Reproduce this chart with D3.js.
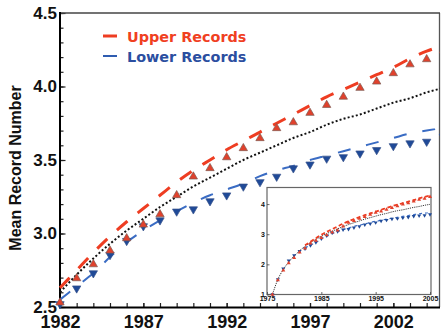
<!DOCTYPE html>
<html>
<head>
<meta charset="utf-8">
<script src="https://cdn.jsdelivr.net/npm/d3@7"></script>
<style>
  body { margin: 0; background: #fff; }
  svg { display: block; }
  .tick text { font-family: "Liberation Sans", Arial, sans-serif; font-weight: bold; fill: #111; }
</style>
</head>
<body>
<div id="chart"></div>
<script>
// years shown in the main panel
const years = [1982, 1983, 1984, 1985, 1986, 1987, 1988, 1989, 1990, 1991, 1992, 1993,
    1994, 1995, 1996, 1997, 1998, 1999, 2000, 2001, 2002, 2003, 2004, 2005];
// measured mean record numbers (triangles)
const upper = [2.53, 2.695, 2.79, 2.883, 2.967, 3.06, 3.13, 3.26, 3.387, 3.444, 3.518, 3.58,
    3.648, 3.716, 3.756, 3.82, 3.874, 3.93, 3.99, 4.033, 4.09, 4.15, 4.185, 4.244];
const lower = [2.52, 2.627, 2.73, 2.854, 2.95, 3.05, 3.09, 3.15, 3.165, 3.22, 3.26, 3.32,
    3.35, 3.387, 3.444, 3.47, 3.51, 3.52, 3.545, 3.568, 3.595, 3.614, 3.625, 3.66];
// fitted curves (dashed)
const upperFit = [2.63, 2.75, 2.87, 2.98, 3.08, 3.17, 3.26, 3.35, 3.43, 3.50, 3.57, 3.63,
    3.69, 3.75, 3.81, 3.87, 3.93, 3.98, 4.03, 4.08, 4.13, 4.19, 4.24, 4.28];
const lowerFit = [2.55, 2.64, 2.73, 2.84, 2.94, 3.02, 3.09, 3.15, 3.21, 3.26, 3.30, 3.34,
    3.39, 3.43, 3.46, 3.50, 3.53, 3.56, 3.59, 3.62, 3.65, 3.68, 3.70, 3.72];
// stationary expectation (dotted)
const expected = [2.60, 2.72, 2.83, 2.93, 3.02, 3.10, 3.18, 3.25, 3.32, 3.38, 3.44, 3.50,
    3.55, 3.60, 3.65, 3.69, 3.74, 3.78, 3.81, 3.85, 3.89, 3.92, 3.96, 3.99];
// extra early years only in the inset
const earlyYears = [1976, 1977, 1978, 1979, 1980, 1981];
const upperEarly = [1.0, 1.48, 1.80, 2.04, 2.22, 2.40];
const lowerEarly = [1.0, 1.50, 1.86, 2.12, 2.30, 2.44];
const expectedEarly = [1.0, 1.5, 1.83, 2.08, 2.28, 2.45];

const xTicks = [1982, 1987, 1992, 1997, 2002];
const yTicks = [2.5, 3.0, 3.5, 4.0, 4.5];
const insetXTicks = [1975, 1985, 1995, 2005];
const insetYTicks = [1, 2, 3, 4];

const W = 441, H = 331;
const red = "#ee3d22", redFill = "#e0412c", blue = "#2f5cb0", blueFill = "#1f4a98";

const svg = d3.select("#chart").append("svg")
    .attr("width", W)
    .attr("height", H);

let x = d3.scaleLinear().domain([1982, 2004.8]).range([60, 440]);
let y = d3.scaleLinear().domain([2.5, 4.5]).range([307, 13]);

const rows = years.map((yr, i) => ({
    year: yr, upper: upper[i], lower: lower[i],
    upperFit: upperFit[i], lowerFit: lowerFit[i], expected: expected[i]
}));
const earlyRows = earlyYears.map((yr, i) => ({
    year: yr, upper: upperEarly[i], lower: lowerEarly[i], expected: expectedEarly[i]
}));

svg.append("defs").append("clipPath")
    .attr("id", "main-clip")
    .append("rect")
    .attr("x", 50).attr("y", 13)
    .attr("width", 390).attr("height", 300);

// axes, ticks point inward
svg.append("g")
    .attr("transform", "translate(60,0)")
    .call(d3.axisLeft(y).tickValues(d3.range(25, 46).map(d => d / 10)).tickSize(-3.5).tickFormat(""))
    .call(g => g.select(".domain").remove());
svg.append("g")
    .attr("transform", "translate(60,0)")
    .call(d3.axisLeft(y).tickValues(yTicks).tickSize(-5.5).tickPadding(3).tickFormat(d3.format(".1f")))
    .call(g => g.select(".domain").remove())
    .selectAll("text").style("font-size", "17px");

svg.append("g")
    .attr("transform", "translate(0,307)")
    .call(d3.axisBottom(x).tickValues(years.slice(0, 23)).tickSize(-4).tickFormat(""))
    .call(g => g.select(".domain").remove());
svg.append("g")
    .attr("transform", "translate(0,307)")
    .call(d3.axisBottom(x).tickValues(xTicks).tickSize(-4).tickPadding(8).tickFormat(d3.format("d")))
    .call(g => g.select(".domain").remove())
    .selectAll("text").style("font-size", "18px");

svg.selectAll(".tick line").attr("stroke", "#222").attr("stroke-width", 1.2);

// frame
svg.append("line").attr("x1", 439.5).attr("x2", 439.5).attr("y1", 13).attr("y2", 307)
    .attr("stroke", "#555").attr("stroke-width", 1.3);
svg.append("line").attr("x1", 60).attr("x2", 440).attr("y1", 13).attr("y2", 13)
    .attr("stroke", "#444").attr("stroke-width", 1.5);
svg.append("line").attr("x1", 60).attr("x2", 60).attr("y1", 12).attr("y2", 308)
    .attr("stroke", "#000").attr("stroke-width", 2);
svg.append("line").attr("x1", 59).attr("x2", 440).attr("y1", 307.5).attr("y2", 307.5)
    .attr("stroke", "#000").attr("stroke-width", 2);

svg.append("text")
    .attr("transform", "translate(21,168) rotate(-90)")
    .attr("text-anchor", "middle")
    .style("font-family", "Liberation Sans, Arial, sans-serif")
    .style("font-weight", "bold")
    .style("font-size", "16px")
    .attr("fill", "#111")
    .text("Mean Record Number");

const plot = svg.append("g").attr("clip-path", "url(#main-clip)");

const line = key => d3.line()
    .x(d => x(d.year))
    .y(d => y(d[key]))
    .curve(d3.curveMonotoneX);

plot.append("path").datum(rows)
    .attr("d", line("expected"))
    .attr("fill", "none").attr("stroke", "#111")
    .attr("stroke-width", 2).attr("stroke-dasharray", "2,2.2");
plot.append("path").datum(rows)
    .attr("d", line("lowerFit"))
    .attr("fill", "none").attr("stroke", "#3a6cc4")
    .attr("stroke-width", 2).attr("stroke-dasharray", "13,16");
plot.append("path").datum(rows)
    .attr("d", line("upperFit"))
    .attr("fill", "none").attr("stroke", red)
    .attr("stroke-width", 3).attr("stroke-dasharray", "14,13");

const tri = d3.symbol().type(d3.symbolTriangle).size(30);

plot.selectAll(".low").data(rows).enter()
    .append("path").attr("class", "low")
    .attr("d", tri)
    .attr("transform", d => `translate(${x(d.year)},${y(d.lower)}) rotate(180)`)
    .attr("fill", blueFill).attr("stroke", "#35508a").attr("stroke-width", 0.7);
plot.selectAll(".up").data(rows).enter()
    .append("path").attr("class", "up")
    .attr("d", tri)
    .attr("transform", d => `translate(${x(d.year)},${y(d.upper)})`)
    .attr("fill", redFill).attr("stroke", "#7d5a52").attr("stroke-width", 0.7);

// legend
const legend = [["Upper Records", red, "#f0401f", 36], ["Lower Records", blue, "#2b4ea0", 56]];
legend.forEach(([name, c, tc, ly]) => {
    svg.append("line").attr("x1", 103).attr("x2", 117).attr("y1", ly).attr("y2", ly)
        .attr("stroke", c).attr("stroke-width", name[0] === "U" ? 3 : 2);
    svg.append("text").attr("x", 127).attr("y", ly + 5.5)
        .style("font-family", "DejaVu Sans, Verdana, sans-serif")
        .style("font-weight", "bold").style("font-size", "14.4px")
        .attr("fill", tc).text(name);
});

// inset
const xi = d3.scaleLinear().domain([1975, 2005]).range([267, 430]);
const yi = d3.scaleLinear().domain([1, 4.55]).range([294.5, 187.5]);
const inset = svg.append("g");

inset.append("rect")
    .attr("x", 267).attr("y", 187.5).attr("width", 164).attr("height", 107)
    .attr("fill", "#fff").attr("stroke", "#666").attr("stroke-width", 1.2);

inset.append("g")
    .attr("transform", "translate(0,294.5)")
    .call(d3.axisBottom(xi).tickValues(insetXTicks).tickSize(-2.5).tickPadding(2).tickFormat(d3.format("d")))
    .call(g => g.select(".domain").remove())
    .selectAll("text").style("font-size", "7px");
inset.append("g")
    .attr("transform", "translate(267,0)")
    .call(d3.axisLeft(yi).tickValues(insetYTicks).tickSize(-2.5).tickPadding(2).tickFormat(d3.format("d")))
    .call(g => g.select(".domain").remove())
    .selectAll("text").style("font-size", "7px");
inset.selectAll(".tick line").attr("stroke", "#444").attr("stroke-width", 0.8);

const allRows = earlyRows.concat(rows);
const iline = key => d3.line()
    .x(d => xi(d.year))
    .y(d => yi(d[key]))
    .curve(d3.curveMonotoneX);

inset.append("path").datum(allRows)
    .attr("d", iline("expected"))
    .attr("fill", "none").attr("stroke", "#222")
    .attr("stroke-width", 0.9).attr("stroke-dasharray", "1.2,1");
inset.append("path").datum(rows)
    .attr("d", iline("lowerFit"))
    .attr("fill", "none").attr("stroke", "#3a6cc4")
    .attr("stroke-width", 1.2).attr("stroke-dasharray", "3,3");
inset.append("path").datum(rows)
    .attr("d", iline("upperFit"))
    .attr("fill", "none").attr("stroke", red)
    .attr("stroke-width", 1.8).attr("stroke-dasharray", "4,2.5");

const smallTri = d3.symbol().type(d3.symbolTriangle).size(7);
inset.selectAll(".ilow").data(allRows).enter()
    .append("path").attr("class", "ilow")
    .attr("d", smallTri)
    .attr("transform", d => `translate(${xi(d.year)},${yi(d.lower)}) rotate(180)`)
    .attr("fill", blueFill);
inset.selectAll(".iup").data(allRows).enter()
    .append("path").attr("class", "iup")
    .attr("d", smallTri)
    .attr("transform", d => `translate(${xi(d.year)},${yi(d.upper)})`)
    .attr("fill", redFill);
</script>
</body>
</html>
